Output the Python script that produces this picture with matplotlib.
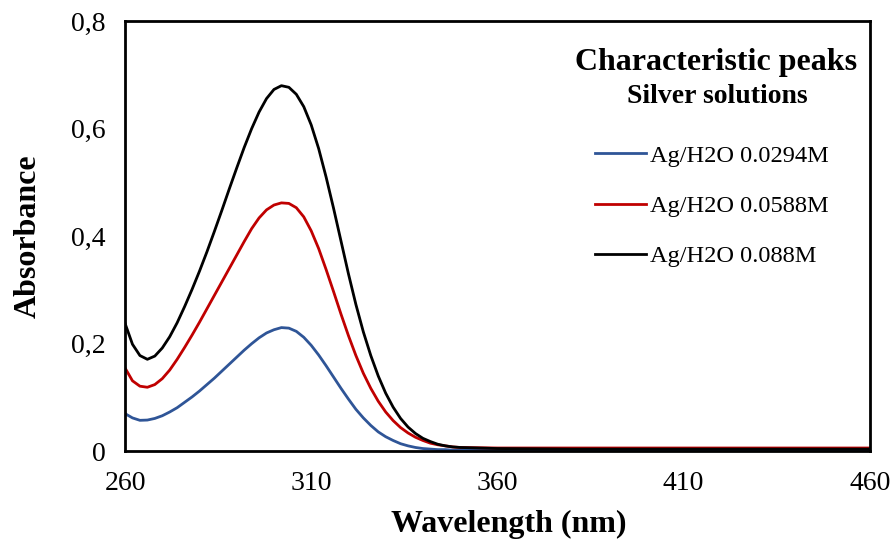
import numpy as np
import matplotlib
matplotlib.use("Agg")
import matplotlib.pyplot as plt

plt.rcParams['font.family'] = ['Liberation Serif', 'DejaVu Serif']

# wavelength grid (nm)
wl = [260, 262, 264, 266, 268, 270, 272, 274, 276, 278, 280, 282, 284, 286, 288,
      290, 292, 294, 296, 298, 300, 302, 304, 306, 308, 310, 312, 314, 316, 318,
      320, 322, 324, 326, 328, 330, 332, 334, 336, 338, 340, 342, 344, 346, 348,
      350, 360, 380, 400, 420, 440, 460]

ag_0294 = [0.070, 0.062, 0.0575, 0.058, 0.061, 0.066, 0.073, 0.081, 0.091, 0.101,
           0.112, 0.124, 0.136, 0.149, 0.162, 0.175, 0.188, 0.200, 0.211, 0.220,
           0.226, 0.230, 0.229, 0.223, 0.212, 0.197, 0.179, 0.159, 0.138, 0.117,
           0.097, 0.078, 0.062, 0.048, 0.036, 0.027, 0.020, 0.014, 0.010, 0.007,
           0.005, 0.004, 0.003, 0.003, 0.002, 0.002, 0.002, 0.002, 0.002, 0.002,
           0.002, 0.002]

ag_0588 = [0.155, 0.131, 0.121, 0.119, 0.124, 0.135, 0.151, 0.171, 0.193, 0.216,
           0.240, 0.265, 0.290, 0.315, 0.340, 0.365, 0.390, 0.414, 0.434, 0.449,
           0.458, 0.462, 0.461, 0.453, 0.436, 0.410, 0.377, 0.338, 0.297, 0.255,
           0.215, 0.178, 0.145, 0.117, 0.093, 0.073, 0.057, 0.044, 0.034, 0.026,
           0.020, 0.015, 0.012, 0.010, 0.008, 0.007, 0.006, 0.006, 0.006, 0.006,
           0.006, 0.006]

ag_088 = [0.238, 0.199, 0.178, 0.171, 0.177, 0.192, 0.213, 0.239, 0.269, 0.301,
          0.335, 0.371, 0.409, 0.448, 0.488, 0.527, 0.565, 0.600, 0.631, 0.656,
          0.673, 0.680, 0.677, 0.664, 0.641, 0.607, 0.563, 0.510, 0.452, 0.391,
          0.330, 0.273, 0.222, 0.178, 0.140, 0.108, 0.082, 0.061, 0.045, 0.033,
          0.024, 0.018, 0.013, 0.010, 0.008, 0.007, 0.005, 0.004, 0.004, 0.004,
          0.004, 0.004]

labels = ['Ag/H2O 0.0294M', 'Ag/H2O 0.0588M', 'Ag/H2O 0.088M']
colors = ['#2F5597', '#C00000', '#000000']

x_ticks = [260, 310, 360, 410, 460]
y_ticks = [0, 0.2, 0.4, 0.6, 0.8]
y_ticklabels = ['0', '0,2', '0,4', '0,6', '0,8']

fig = plt.figure(figsize=(8.93, 5.43), dpi=100)
ax = fig.add_axes([0.140, 0.169, 0.834, 0.792])

for ys, lab, c in zip([ag_0294, ag_0588, ag_088], labels, colors):
    ax.plot(wl, ys, color=c, lw=2.0, label=lab)

ax.set_xlim(260, 460)
ax.set_ylim(0, 0.8)
ax.set_xticks(x_ticks)
ax.set_yticks(y_ticks)
ax.set_yticklabels(y_ticklabels)
ax.tick_params(length=0, labelsize=20, pad=14)
for s in ax.spines.values():
    s.set_linewidth(2.0)

ax.set_xlabel('Wavelength (nm)', fontsize=23, fontweight='bold', labelpad=10)
ax.xaxis.label.set_x(0.515)
ax.set_ylabel('Absorbance', fontsize=23, fontweight='bold', labelpad=20)

ax.text(0.983, 0.905, 'Characteristic peaks', transform=ax.transAxes,
        ha='right', va='center', fontsize=23, fontweight='bold')
ax.text(0.917, 0.826, 'Silver solutions', transform=ax.transAxes,
        ha='right', va='center', fontsize=20, fontweight='bold')

ax.legend(loc='upper left', bbox_to_anchor=(0.618, 0.735), frameon=False,
          fontsize=17.6, handlelength=2.1, handletextpad=0.15,
          labelspacing=1.15, borderaxespad=0)

fig.savefig('out.png', dpi=100)
